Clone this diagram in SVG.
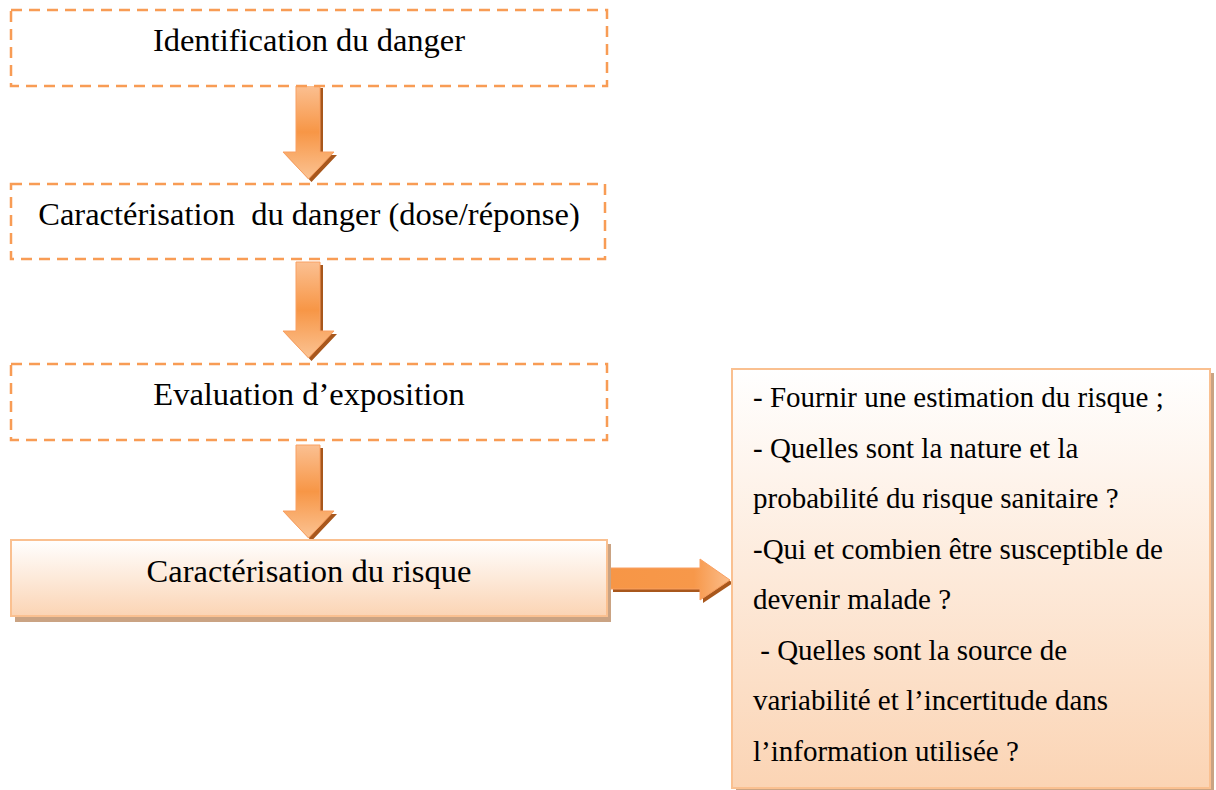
<svg xmlns="http://www.w3.org/2000/svg" width="1216" height="790" viewBox="0 0 1216 790">
<style>
.dash{fill:#ffffff;stroke:#f89c55;stroke-width:2.5;stroke-dasharray:11 7}
.lbl{font-family:"Liberation Serif","Times New Roman",serif;font-size:32.5px;fill:#000;text-anchor:middle}
.txt{font-family:"Liberation Serif","Times New Roman",serif;font-size:29px;fill:#000}
.arr{fill:url(#gv);stroke:#f9a062;stroke-width:1}
.arrh{fill:url(#gh);stroke:#f9a062;stroke-width:1}
.shd{fill:#a8571c}
.boxshd{fill:#caa383}
</style>
<defs>
<linearGradient id="gv" x1="0" y1="0" x2="0" y2="1">
<stop offset="0" stop-color="#fbc092"/>
<stop offset="0.5" stop-color="#f79646"/>
<stop offset="1" stop-color="#fbc393"/>
</linearGradient>
<linearGradient id="gh" x1="0" y1="0" x2="1" y2="0">
<stop offset="0" stop-color="#f79646"/>
<stop offset="0.7" stop-color="#f7984a"/>
<stop offset="1" stop-color="#fbbd8b"/>
</linearGradient>
<linearGradient id="gb" x1="0" y1="0" x2="0" y2="1">
<stop offset="0" stop-color="#ffffff"/>
<stop offset="1" stop-color="#fbd4b4"/>
</linearGradient>
</defs>

<g id="connectors">
<path class="shd" d="M299,88 H323 V155 H337 L311.5,182 L286,155 H299 Z"/>
<path class="arr" d="M296,85 H320 V152 H334 L308.5,179 L283,152 H296 Z"/>
<path class="shd" d="M299,265 H323 V334 H337 L311.5,361 L286,334 H299 Z"/>
<path class="arr" d="M296,262 H320 V331 H334 L308.5,358 L283,331 H296 Z"/>
<path class="shd" d="M299,448 H323 V514 H337 L311.5,541 L286,514 H299 Z"/>
<path class="arr" d="M296,445 H320 V511 H334 L308.5,538 L283,511 H296 Z"/>
<path class="shd" d="M613,571 H703 V562 L733,583 L703,603 V592 H613 Z"/>
<path class="arrh" d="M610,568 H700 V559 L730,580 L700,600 V589 H610 Z"/>
</g>

<g id="n1">
<rect class="dash" x="11" y="10" width="596" height="76"/>
<text class="lbl" x="309" y="51">Identification du danger</text>
</g>

<g id="n2">
<rect class="dash" x="11" y="184" width="594" height="75"/>
<text class="lbl" x="309" y="225" xml:space="preserve">Caractérisation  du danger (dose/réponse)</text>
</g>

<g id="n3">
<rect class="dash" x="11" y="364" width="596" height="76"/>
<text class="lbl" x="309" y="405">Evaluation d’exposition</text>
</g>

<g id="n4">
<rect class="boxshd" x="15" y="544" width="596" height="78"/>
<rect x="11" y="540" width="596" height="76" fill="url(#gb)" stroke="#fac090" stroke-width="2"/>
<text class="lbl" x="309" y="582">Caractérisation du risque</text>
</g>

<g id="n5">
<rect class="boxshd" x="736" y="373" width="478" height="420"/>
<rect x="732" y="369" width="478" height="419" fill="url(#gb)" stroke="#fac090" stroke-width="2"/>
<text class="txt" xml:space="preserve"><tspan x="753" y="407">- Fournir une estimation du risque ;</tspan><tspan x="753" y="457.5">- Quelles sont la nature et la</tspan><tspan x="753" y="508">probabilité du risque sanitaire ?</tspan><tspan x="753" y="558.5">-Qui et combien être susceptible de</tspan><tspan x="753" y="609">devenir malade ?</tspan><tspan x="753" y="659.5"> - Quelles sont la source de</tspan><tspan x="753" y="710">variabilité et l’incertitude dans</tspan><tspan x="753" y="760.5">l’information utilisée ?</tspan></text>
</g>
</svg>
